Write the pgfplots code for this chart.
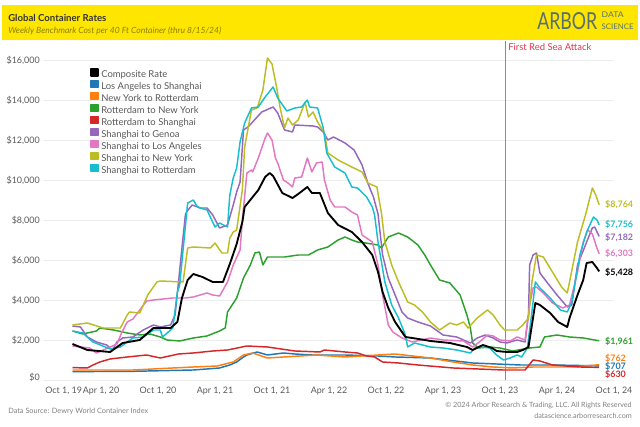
\documentclass[border=0pt]{standalone}
\usepackage{fontspec}
\setmainfont{Lato}
\usepackage{pgfplots}
\pgfplotsset{compat=1.18}
\definecolor{cComp}{HTML}{000000}
\definecolor{cLA}{HTML}{1F77B4}
\definecolor{cNY}{HTML}{FF7F0E}
\definecolor{cRNY}{HTML}{2CA02C}
\definecolor{cRS}{HTML}{D62728}
\definecolor{cGen}{HTML}{9467BD}
\definecolor{cSLA}{HTML}{E377C2}
\definecolor{cSNY}{HTML}{BCBD22}
\definecolor{cSR}{HTML}{17BECF}
\definecolor{hdr}{HTML}{FFE600}
\definecolor{logo}{HTML}{587070}
\definecolor{subt}{HTML}{8C7F00}
\definecolor{redsea}{HTML}{E8334A}
\newcommand\firstlabel{Oct 1, 19}
\begin{document}
\begin{tikzpicture}
\path[use as bounding box] (0,0) rectangle (480pt,320.25pt);
\fill[hdr] (1.5pt,290.25pt) rectangle (478.5pt,316.5pt);
\node[anchor=west,inner sep=0pt,text=black!80,font=\bfseries\fontsize{7.2}{8}\selectfont] at (6pt,306.75pt) {Global Container Rates};
\node[anchor=west,inner sep=0pt,text=subt,font=\itshape\fontsize{6.4}{7}\selectfont] at (6pt,297pt) {Weekly Benchmark Cost per 40 Ft Container (thru 8/15/24)};
\node[anchor=south west,inner sep=0pt,text=logo] at (402.75pt,297.75pt) {\resizebox{45pt}{12.75pt}{ARBOR}};
\node[anchor=north west,inner sep=0pt,text=logo] at (451pt,311.25pt) {\resizebox{16.5pt}{4.2pt}{DATA}};
\node[anchor=south west,inner sep=0pt,text=logo] at (451pt,297.75pt) {\resizebox{24pt}{4.2pt}{SCIENCE}};
\node[anchor=west,inner sep=0pt,text=black!50,font=\fontsize{5.5}{7}\selectfont] at (6pt,12pt) {Data Source: Dewry World Container Index};
\node[anchor=east,inner sep=0pt,text=black!50,font=\fontsize{5.4}{7}\selectfont] at (474pt,15.75pt) {\textcopyright{} 2024 Arbor Research \& Trading, LLC. All Rights Reserved};
\node[anchor=east,inner sep=0pt,text=black!50,font=\fontsize{5.4}{7}\selectfont] at (474pt,8.25pt) {datascience.arborresearch.com};
\begin{axis}[
  at={(33pt,35.25pt)}, anchor=south west,
  scale only axis, width=427.5pt, height=251.25pt,
  xmin=2019.75, xmax=2024.75, ymin=0, ymax=16750,
  clip=false, scaled y ticks=false, scaled x ticks=false,
  axis line style={draw=none}, tick style={draw=none},
  ymajorgrids, grid style={color=black!7, line width=0.5pt},
  ytick={0,2000,4000,6000,8000,10000,12000,14000,16000},
  yticklabels={\raisebox{4.5pt}{\$0},{\$2,000},{\$4,000},{\$6,000},{\$8,000},{\$10,000},{\$12,000},{\$14,000},{\$16,000}},
  yticklabel style={font=\fontsize{6.7}{8}\selectfont, text=black!65, inner sep=0pt, anchor=east, xshift=-3pt},
  xtick={2020.25,2020.75,2021.25,2021.75,2022.25,2022.75,2023.25,2023.75,2024.25,2024.75},
  xticklabels={{Apr 1, 20},{Oct 1, 20},{Apr 1, 21},{Oct 1, 21},{Apr 1, 22},{Oct 1, 22},{Apr 1, 23},{Oct 1, 23},{Apr 1, 24},{Oct 1, 24}},
  extra x ticks={2019.75}, extra x tick labels={\firstlabel},
  extra x tick style={xticklabel style={anchor=north west, xshift=0.75pt}},
  xticklabel style={font=\fontsize{6.7}{8}\selectfont, text=black!65, inner sep=0pt, anchor=north, yshift=-5.25pt},
  legend style={at={(0.0807,0.933)}, anchor=north west, draw=none, fill=none, inner sep=0pt,
    row sep=0.4pt, font=\fontsize{7.1}{8}\selectfont, text=black!65,
    nodes={inner xsep=1.6pt, inner ysep=0pt, text height=5.2pt, text depth=1.6pt}},
  legend cell align=left,
  legend image code/.code={\fill[#1] (0pt,-0.6pt) rectangle (5.25pt,4.65pt);},
  every axis plot/.append style={line width=1.1pt, line join=round},
]
\draw[black!45, line width=0.8pt] (axis cs:2023.80,0) -- (axis cs:2023.80,16950);
\node[anchor=west, inner sep=0pt, text=redsea, font=\fontsize{7.1}{8}\selectfont] at (axis cs:2023.82,16650) {First Red Sea Attack};

\addplot[cComp, line width=1.4pt] coordinates {(2020.00,1800)};
\addlegendentry{Composite Rate}
\addplot[cLA] coordinates {(2020.00,420)(2020.50,430)(2021.06,500)(2021.29,600)(2021.38,750)(2021.44,900)(2021.50,1150)(2021.53,1250)(2021.62,1400)(2021.71,1250)(2021.85,1350)(2021.95,1300)(2022.10,1250)(2022.39,1250)(2022.68,1200)(2022.83,1150)(2023.14,1100)(2023.51,850)(2023.93,750)(2024.21,750)(2024.62,707)};
\addlegendentry{Los Angeles to Shanghai}
\addplot[cNY] coordinates {(2020.00,500)(2020.53,500)(2020.88,600)(2021.06,650)(2021.27,700)(2021.41,900)(2021.50,1250)(2021.58,1350)(2021.71,1100)(2021.85,1150)(2022.00,1200)(2022.14,1250)(2022.39,1150)(2022.68,1250)(2022.83,1300)(2023.14,1100)(2023.34,900)(2023.51,750)(2023.69,650)(2023.86,600)(2024.04,650)(2024.39,650)(2024.62,762)};
\addlegendentry{New York to Rotterdam}
\addplot[cRNY] coordinates {(2020.00,2450)(2020.09,2300)(2020.21,2450)(2020.24,2600)(2020.36,2500)(2020.48,2350)(2020.59,2250)(2020.68,2300)(2020.77,2150)(2020.83,2000)(2020.94,1950)(2021.06,2100)(2021.18,2200)(2021.29,2450)(2021.34,2600)(2021.36,3400)(2021.44,4100)(2021.50,5100)(2021.56,5750)(2021.60,6350)(2021.64,6400)(2021.67,5750)(2021.71,6150)(2021.86,6150)(2021.98,6250)(2022.07,6250)(2022.15,6500)(2022.24,6650)(2022.33,7000)(2022.39,7150)(2022.45,7000)(2022.50,6900)(2022.57,6850)(2022.68,6750)(2022.71,6600)(2022.77,7150)(2022.86,7350)(2022.94,7150)(2023.03,6750)(2023.09,6250)(2023.14,5750)(2023.22,5000)(2023.31,4850)(2023.40,4250)(2023.46,3250)(2023.49,2600)(2023.51,1850)(2023.56,1600)(2023.66,1650)(2023.75,1600)(2023.86,1450)(2024.01,1600)(2024.10,1650)(2024.14,2150)(2024.25,2250)(2024.36,2150)(2024.48,2100)(2024.62,1961)};
\addlegendentry{Rotterdam to New York}
\addplot[cRS] coordinates {(2020.00,620)(2020.13,600)(2020.18,750)(2020.24,900)(2020.33,1050)(2020.48,1150)(2020.65,1250)(2020.77,1100)(2020.93,1300)(2021.06,1350)(2021.23,1450)(2021.36,1500)(2021.53,1700)(2021.71,1650)(2021.95,1450)(2022.17,1400)(2022.21,1500)(2022.39,1400)(2022.50,1350)(2022.58,1200)(2022.65,1150)(2022.72,900)(2022.86,850)(2023.03,750)(2023.34,600)(2023.78,500)(2023.97,500)(2024.04,1000)(2024.10,950)(2024.21,750)(2024.45,650)(2024.62,630)};
\addlegendentry{Rotterdam to Shanghai}
\addplot[cGen] coordinates {(2020.00,2700)(2020.07,2650)(2020.13,2150)(2020.21,1900)(2020.30,1750)(2020.35,1500)(2020.39,1900)(2020.44,2100)(2020.53,2150)(2020.62,2500)(2020.71,2750)(2020.77,2650)(2020.86,2750)(2020.90,3250)(2020.93,4900)(2020.96,6600)(2020.99,8250)(2021.00,8400)(2021.05,8750)(2021.12,8600)(2021.18,8600)(2021.23,8250)(2021.29,7600)(2021.36,7750)(2021.41,8750)(2021.44,9400)(2021.47,9900)(2021.50,12500)(2021.54,12650)(2021.62,13150)(2021.66,13400)(2021.76,13650)(2021.80,13350)(2021.86,12500)(2021.93,12400)(2021.95,12750)(2022.11,12700)(2022.15,12650)(2022.20,12400)(2022.24,12000)(2022.29,12150)(2022.39,11850)(2022.47,11500)(2022.54,10750)(2022.59,9850)(2022.64,9150)(2022.68,8300)(2022.72,6250)(2022.77,5100)(2022.83,4250)(2022.89,3400)(2022.94,3100)(2023.03,2900)(2023.14,2700)(2023.25,2250)(2023.37,2150)(2023.49,1850)(2023.55,2100)(2023.62,2250)(2023.69,2100)(2023.75,1900)(2023.81,1850)(2023.90,2000)(2023.97,1900)(2024.00,3250)(2024.01,5750)(2024.04,6250)(2024.07,6350)(2024.10,5350)(2024.16,4900)(2024.25,4250)(2024.34,3650)(2024.38,3750)(2024.43,5750)(2024.51,6900)(2024.56,7600)(2024.58,7650)(2024.62,7182)};
\addlegendentry{Shanghai to Genoa}
\addplot[cSLA] coordinates {(2020.00,1700)(2020.15,1600)(2020.21,1350)(2020.39,1800)(2020.43,2350)(2020.48,2900)(2020.53,3050)(2020.57,3350)(2020.65,3950)(2020.71,4000)(2020.88,4100)(2020.99,4100)(2021.06,4150)(2021.18,4350)(2021.23,4250)(2021.29,4200)(2021.36,4900)(2021.41,5750)(2021.47,6500)(2021.49,8000)(2021.53,10350)(2021.57,10500)(2021.58,10400)(2021.63,11100)(2021.69,12100)(2021.71,12350)(2021.75,12000)(2021.78,11100)(2021.80,10850)(2021.85,10000)(2021.89,9850)(2021.93,9650)(2021.95,10100)(2022.01,10150)(2022.06,11100)(2022.10,10400)(2022.14,10850)(2022.19,10900)(2022.21,10000)(2022.26,9000)(2022.30,8650)(2022.39,8650)(2022.45,8400)(2022.50,8250)(2022.54,7250)(2022.63,6900)(2022.68,5750)(2022.72,4250)(2022.77,2750)(2022.81,2400)(2022.89,2100)(2022.98,1900)(2023.14,2100)(2023.25,2000)(2023.43,1950)(2023.51,1650)(2023.57,1900)(2023.64,2250)(2023.69,2200)(2023.75,2000)(2023.84,1950)(2023.90,2150)(2023.97,2000)(2024.01,3750)(2024.04,4600)(2024.07,4650)(2024.13,4350)(2024.21,3850)(2024.30,3600)(2024.36,3750)(2024.43,5400)(2024.48,6900)(2024.52,7500)(2024.56,7300)(2024.60,6600)(2024.62,6303)};
\addlegendentry{Shanghai to Los Angeles}
\addplot[cSNY] coordinates {(2020.00,2750)(2020.13,2850)(2020.27,2600)(2020.42,2600)(2020.48,3250)(2020.50,3400)(2020.59,3350)(2020.66,4250)(2020.74,4900)(2020.77,4950)(2020.97,4900)(2021.01,6600)(2021.06,6650)(2021.21,6600)(2021.25,6850)(2021.31,6350)(2021.36,6350)(2021.38,7100)(2021.41,7400)(2021.44,7500)(2021.49,9500)(2021.51,11650)(2021.57,13500)(2021.62,13600)(2021.67,14500)(2021.71,16100)(2021.75,15800)(2021.79,14650)(2021.82,13650)(2021.86,12600)(2021.89,13100)(2021.93,12750)(2021.98,13000)(2022.04,13900)(2022.07,13150)(2022.11,13400)(2022.15,12900)(2022.21,12350)(2022.24,11350)(2022.33,11000)(2022.45,10650)(2022.54,10400)(2022.59,9850)(2022.67,9650)(2022.71,8350)(2022.74,6900)(2022.80,5750)(2022.86,4900)(2022.94,3900)(2023.00,3750)(2023.07,3400)(2023.14,2900)(2023.22,2500)(2023.31,2850)(2023.37,2750)(2023.43,2900)(2023.47,2600)(2023.55,3100)(2023.64,3500)(2023.69,3250)(2023.75,2750)(2023.79,2500)(2023.90,2500)(2023.95,2750)(2024.00,3100)(2024.03,4900)(2024.07,6250)(2024.13,6150)(2024.21,5400)(2024.29,4650)(2024.34,4350)(2024.36,4900)(2024.43,6900)(2024.50,8250)(2024.56,9600)(2024.59,9250)(2024.62,8764)};
\addlegendentry{Shanghai to New York}
\addplot[cSR] coordinates {(2020.00,2450)(2020.09,2350)(2020.18,1900)(2020.33,1550)(2020.42,1650)(2020.48,1900)(2020.53,2100)(2020.62,2150)(2020.71,2500)(2020.77,2500)(2020.79,2150)(2020.88,2600)(2020.92,4400)(2020.94,4750)(2020.97,6500)(2021.00,8250)(2021.01,8850)(2021.06,9000)(2021.09,8700)(2021.12,8600)(2021.18,8500)(2021.25,7650)(2021.29,7850)(2021.36,7650)(2021.38,9250)(2021.41,10100)(2021.44,10600)(2021.47,11900)(2021.51,12850)(2021.57,13600)(2021.63,13650)(2021.69,14150)(2021.76,14650)(2021.80,14100)(2021.88,13450)(2021.95,13600)(2022.01,13650)(2022.06,14000)(2022.08,13650)(2022.15,13600)(2022.20,12600)(2022.23,11350)(2022.30,10650)(2022.39,10350)(2022.45,9650)(2022.50,9600)(2022.58,9150)(2022.63,8650)(2022.65,8250)(2022.68,6900)(2022.74,4900)(2022.80,3750)(2022.86,3100)(2022.92,2250)(2022.94,1650)(2023.00,1850)(2023.07,1750)(2023.14,1650)(2023.25,1600)(2023.37,1500)(2023.49,1350)(2023.53,1600)(2023.60,1650)(2023.66,1600)(2023.72,1250)(2023.78,1000)(2023.84,1100)(2023.90,1250)(2023.94,1150)(2023.99,1600)(2024.03,3400)(2024.06,4900)(2024.10,4600)(2024.19,4100)(2024.28,3500)(2024.34,3400)(2024.38,3900)(2024.45,6250)(2024.51,7400)(2024.57,8150)(2024.60,8000)(2024.62,7756)};
\addlegendentry{Shanghai to Rotterdam}
\addplot[cComp, line width=1.4pt, forget plot] coordinates {(2020.00,1800)(2020.13,1500)(2020.33,1400)(2020.44,1850)(2020.59,2000)(2020.71,2600)(2020.86,2600)(2020.92,2900)(2020.96,4100)(2021.01,5000)(2021.06,5300)(2021.14,5150)(2021.23,4900)(2021.32,4900)(2021.38,5800)(2021.44,6800)(2021.49,7900)(2021.51,8650)(2021.63,9500)(2021.69,10150)(2021.73,10350)(2021.76,10200)(2021.84,9350)(2021.93,9100)(2021.98,9300)(2022.06,9650)(2022.10,9350)(2022.17,9350)(2022.24,8350)(2022.33,7750)(2022.45,7400)(2022.54,6900)(2022.63,6250)(2022.68,5400)(2022.72,4400)(2022.77,3600)(2022.83,2900)(2022.92,2150)(2022.98,2100)(2023.09,2000)(2023.14,1950)(2023.31,1850)(2023.46,1650)(2023.51,1500)(2023.60,1750)(2023.68,1600)(2023.72,1450)(2023.81,1400)(2023.90,1400)(2023.95,1500)(2024.00,1650)(2024.03,2750)(2024.06,3850)(2024.10,3750)(2024.19,3350)(2024.26,2900)(2024.34,2650)(2024.36,3100)(2024.43,4250)(2024.48,5000)(2024.51,5850)(2024.56,5900)(2024.60,5600)(2024.62,5428)};

\node[anchor=west,inner sep=0pt,text=cSNY,font=\bfseries\fontsize{6.7}{8}\selectfont] at (axis cs:2024.67,8764) {\$8,764};
\node[anchor=west,inner sep=0pt,text=cSR,font=\bfseries\fontsize{6.7}{8}\selectfont] at (axis cs:2024.67,7756) {\$7,756};
\node[anchor=west,inner sep=0pt,text=cGen,font=\bfseries\fontsize{6.7}{8}\selectfont] at (axis cs:2024.67,7150) {\$7,182};
\node[anchor=west,inner sep=0pt,text=cSLA,font=\bfseries\fontsize{6.7}{8}\selectfont] at (axis cs:2024.67,6350) {\$6,303};
\node[anchor=west,inner sep=0pt,text=cComp,font=\bfseries\fontsize{6.7}{8}\selectfont] at (axis cs:2024.67,5400) {\$5,428};
\node[anchor=west,inner sep=0pt,text=cRNY,font=\bfseries\fontsize{6.7}{8}\selectfont] at (axis cs:2024.67,1950) {\$1,961};
\node[anchor=west,inner sep=0pt,text=cNY,font=\bfseries\fontsize{6.7}{8}\selectfont] at (axis cs:2024.67,1100) {\$762};
\node[anchor=west,inner sep=0pt,text=cLA,font=\bfseries\fontsize{6.7}{8}\selectfont] at (axis cs:2024.67,700) {\$707};
\node[anchor=west,inner sep=0pt,text=cRS,font=\bfseries\fontsize{6.7}{8}\selectfont] at (axis cs:2024.67,300) {\$630};
\end{axis}
\end{tikzpicture}
\end{document}
